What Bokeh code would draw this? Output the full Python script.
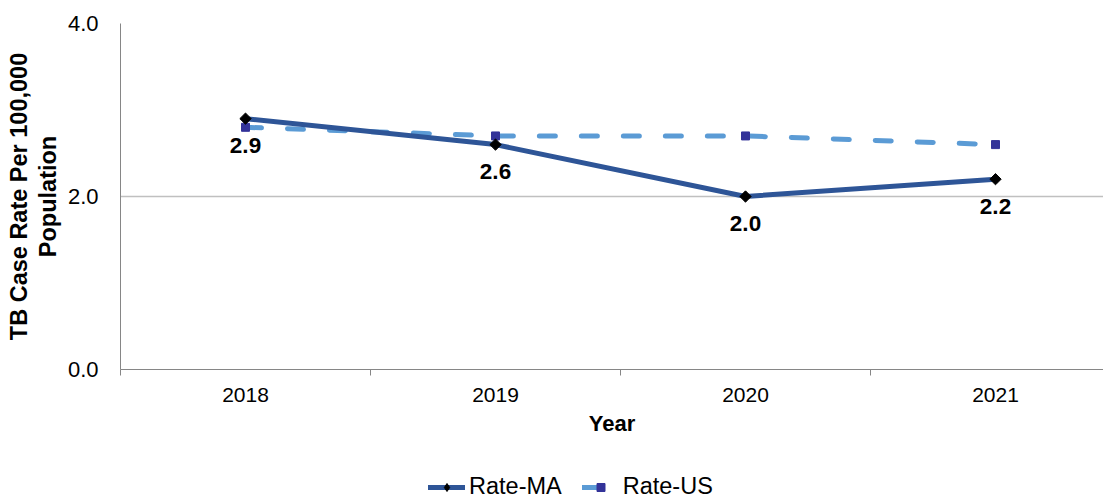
import numpy as np
from bokeh.plotting import figure
from bokeh.layouts import column
from bokeh.models import (Range1d, FixedTicker, Legend, LegendItem, ColumnDataSource,
                          NumeralTickFormatter)
from bokeh.core.properties import value
from bokeh.embed import file_html
from bokeh.resources import INLINE

years = ["2018", "2019", "2020", "2021"]
rate_ma = [2.9, 2.6, 2.0, 2.2]
rate_us = [2.8, 2.7, 2.7, 2.6]
labels_ma = ["2.9", "2.6", "2.0", "2.2"]
series_names = ["Rate-MA", "Rate-US"]

xs = list(range(len(years)))
FONT = "Liberation Sans"
MA_COLOR = "#2E5597"
US_COLOR = "#5B9BD5"
US_MARK = "#333399"

p = figure(frame_width=983, frame_height=346, output_backend="svg", toolbar_location=None,
           x_range=Range1d(-0.5, 3.432), y_range=Range1d(0, 4),
           min_border_left=120, min_border_right=0, min_border_top=23, min_border_bottom=80)
p.outline_line_color = None

src_ma = ColumnDataSource(dict(x=xs, y=rate_ma, lab=labels_ma))
src_us = ColumnDataSource(dict(x=xs, y=rate_us))

p.line("x", "y", source=src_us, line_color=US_COLOR, line_width=5,
       line_dash="16 26", line_cap="round")
p.scatter("x", "y", source=src_us, marker="square", size=8,
          fill_color=US_MARK, line_color=US_MARK)
p.line("x", "y", source=src_ma, line_color=MA_COLOR, line_width=5, line_cap="round")
p.scatter("x", "y", source=src_ma, marker="square", angle=np.pi / 4, size=8,
          fill_color="black", line_color="black")
p.text("x", "y", text="lab", source=src_ma, y_offset=27, text_align="center",
       text_baseline="middle", text_font=value(FONT), text_font_style="bold",
       text_font_size="22.5px", text_color="black")

# axes
xa = p.xaxis[0]
xa.ticker = FixedTicker(ticks=xs, minor_ticks=[-0.5, 0.5, 1.5, 2.5])
xa.major_label_overrides = {i: y for i, y in enumerate(years)}
xa.major_tick_line_color = None
xa.major_tick_out = 0
xa.major_tick_in = 0
xa.minor_tick_out = 6
xa.minor_tick_in = 0
xa.minor_tick_line_color = "#868686"
xa.axis_line_color = "#868686"
xa.major_label_standoff = 12
xa.major_label_text_font = FONT
xa.major_label_text_font_size = "21px"
xa.major_label_text_color = "black"
xa.axis_label = "Year"
xa.axis_label_text_font = FONT
xa.axis_label_text_font_style = "bold"
xa.axis_label_text_font_size = "22px"
xa.axis_label_text_color = "black"
xa.axis_label_standoff = 6

ya = p.yaxis[0]
ya.ticker = FixedTicker(ticks=[0, 2, 4], minor_ticks=[])
ya.formatter = NumeralTickFormatter(format="0.0")
ya.major_tick_line_color = None
ya.major_tick_out = 0
ya.major_tick_in = 0
ya.minor_tick_line_color = None
ya.axis_line_color = "#868686"
ya.major_label_standoff = 22
ya.major_label_text_font = FONT
ya.major_label_text_font_size = "22px"
ya.major_label_text_color = "black"
ya.axis_label = "TB Case Rate Per 100,000\nPopulation"
ya.axis_label_text_font = FONT
ya.axis_label_text_font_style = "bold"
ya.axis_label_text_font_size = "23.5px"
ya.axis_label_text_color = "black"
ya.axis_label_text_line_height = 1.1
ya.axis_label_standoff = 4

p.xgrid.grid_line_color = None
p.ygrid.grid_line_color = "#C0C0C0"
p.ygrid.grid_line_width = 1.5
p.ygrid.ticker = FixedTicker(ticks=[2, 4])

# legend strip below the chart (frame aligned with the chart frame)
pl = figure(width=1103, height=51, output_backend="svg", toolbar_location=None,
            x_range=Range1d(0, 1), y_range=Range1d(0, 1),
            x_axis_type=None, y_axis_type=None,
            min_border_left=0, min_border_right=0, min_border_top=0, min_border_bottom=0)
pl.outline_line_color = None
r1 = pl.line(x=[5, 6], y=[5, 6], line_color=MA_COLOR, line_width=5, line_cap="round")
r2 = pl.scatter(x=[5], y=[5], marker="diamond", size=12,
                fill_color="black", line_color="black")
r3 = pl.line(x=[5, 6], y=[5, 6], line_color=US_COLOR, line_width=5, line_dash="16 26",
             line_cap="round")
r4 = pl.scatter(x=[5], y=[5], marker="square", size=8, fill_color=US_MARK, line_color=US_MARK)

legend = Legend(items=[LegendItem(label=series_names[0], renderers=[r1, r2]),
                       LegendItem(label=series_names[1], renderers=[r3, r4])],
                orientation="horizontal", location=(308, 0),
                label_text_font=FONT, label_text_font_size="23.5px", label_text_color="black",
                glyph_width=37, glyph_height=20, label_height=20, label_standoff=4,
                spacing=20, padding=0, margin=0, border_line_color=None,
                background_fill_alpha=0)
pl.add_layout(legend, "center")

layout = column(p, pl, spacing=0)
open("out.html", "w").write(file_html(layout, INLINE))
